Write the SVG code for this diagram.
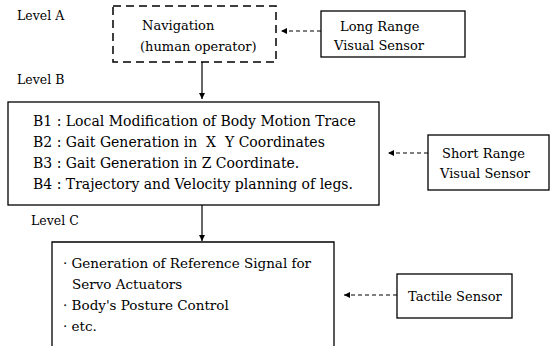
<svg xmlns="http://www.w3.org/2000/svg" width="556" height="346" viewBox="0 0 556 346">
<defs>
<marker id="ah" viewBox="0 0 10 10" refX="10" refY="5" markerWidth="7" markerHeight="6" orient="auto" markerUnits="userSpaceOnUse"><path d="M0,0 L10,5 L0,10 z" fill="#000"/></marker>
</defs>
<style>
text{font-family:"DejaVu Serif","Liberation Serif",serif;font-size:13px;fill:#000}
.lvl{font-size:12.5px}
.big{font-size:14px}
.mid{font-size:13.5px}
.box{fill:#fff;stroke:#000;stroke-width:1.3}
.dbox{fill:#fff;stroke:#000;stroke-width:1.5;stroke-dasharray:8,5}
.solid{stroke:#000;stroke-width:1.2;fill:none}
.dash{stroke:#000;stroke-width:1.2;fill:none;stroke-dasharray:4,3}
</style>
<rect width="556" height="346" fill="#fff"/>
<g id="labels">
<text class="lvl" x="17" y="20">Level A</text>
<text class="lvl" x="17" y="84">Level B</text>
<text class="lvl" x="31" y="225">Level C</text>
</g>
<g id="nav">
<rect class="dbox" x="113" y="6" width="163" height="56"/>
<text x="142" y="30">Navigation</text>
<text x="140" y="51">(human operator)</text>
</g>
<g id="longrange">
<rect class="box" x="321" y="11" width="144" height="46"/>
<text x="340" y="31">Long Range</text>
<text x="334" y="50">Visual Sensor</text>
</g>
<g id="levelB">
<rect class="box" x="8" y="102" width="371" height="103"/>
<text class="big" x="33" y="126">B1 : Local Modification of Body Motion Trace</text>
<text class="big" x="33" y="147">B2 : Gait Generation in&#160; X&#160; Y Coordinates</text>
<text class="big" x="33" y="168">B3 : Gait Generation in Z Coordinate.</text>
<text class="big" x="33" y="189">B4 : Trajectory and Velocity planning of legs.</text>
</g>
<g id="shortrange">
<rect class="box" x="428" y="135" width="121" height="55"/>
<text x="442" y="158">Short Range</text>
<text x="440" y="178">Visual Sensor</text>
</g>
<g id="levelC">
<path class="box" d="M52,350 L52,242 L334,242 L334,350"/>
<text class="mid" x="63" y="268">· Generation of Reference Signal for</text>
<text class="mid" x="72" y="289">Servo Actuators</text>
<text class="mid" x="63" y="310">· Body's Posture Control</text>
<text class="mid" x="63" y="331">· etc.</text>
</g>
<g id="tactile">
<rect class="box" x="397" y="274" width="115" height="44"/>
<text x="408" y="301">Tactile Sensor</text>
</g>
<g id="connectors">
<line class="solid" x1="202" y1="62" x2="202" y2="99" marker-end="url(#ah)"/>
<line class="solid" x1="202" y1="205" x2="202" y2="241" marker-end="url(#ah)"/>
<line class="dash" x1="321" y1="31" x2="281" y2="31" marker-end="url(#ah)"/>
<line class="dash" x1="428" y1="153" x2="388" y2="153" marker-end="url(#ah)"/>
<line class="dash" x1="397" y1="295" x2="344" y2="295" marker-end="url(#ah)"/>
</g>
</svg>
